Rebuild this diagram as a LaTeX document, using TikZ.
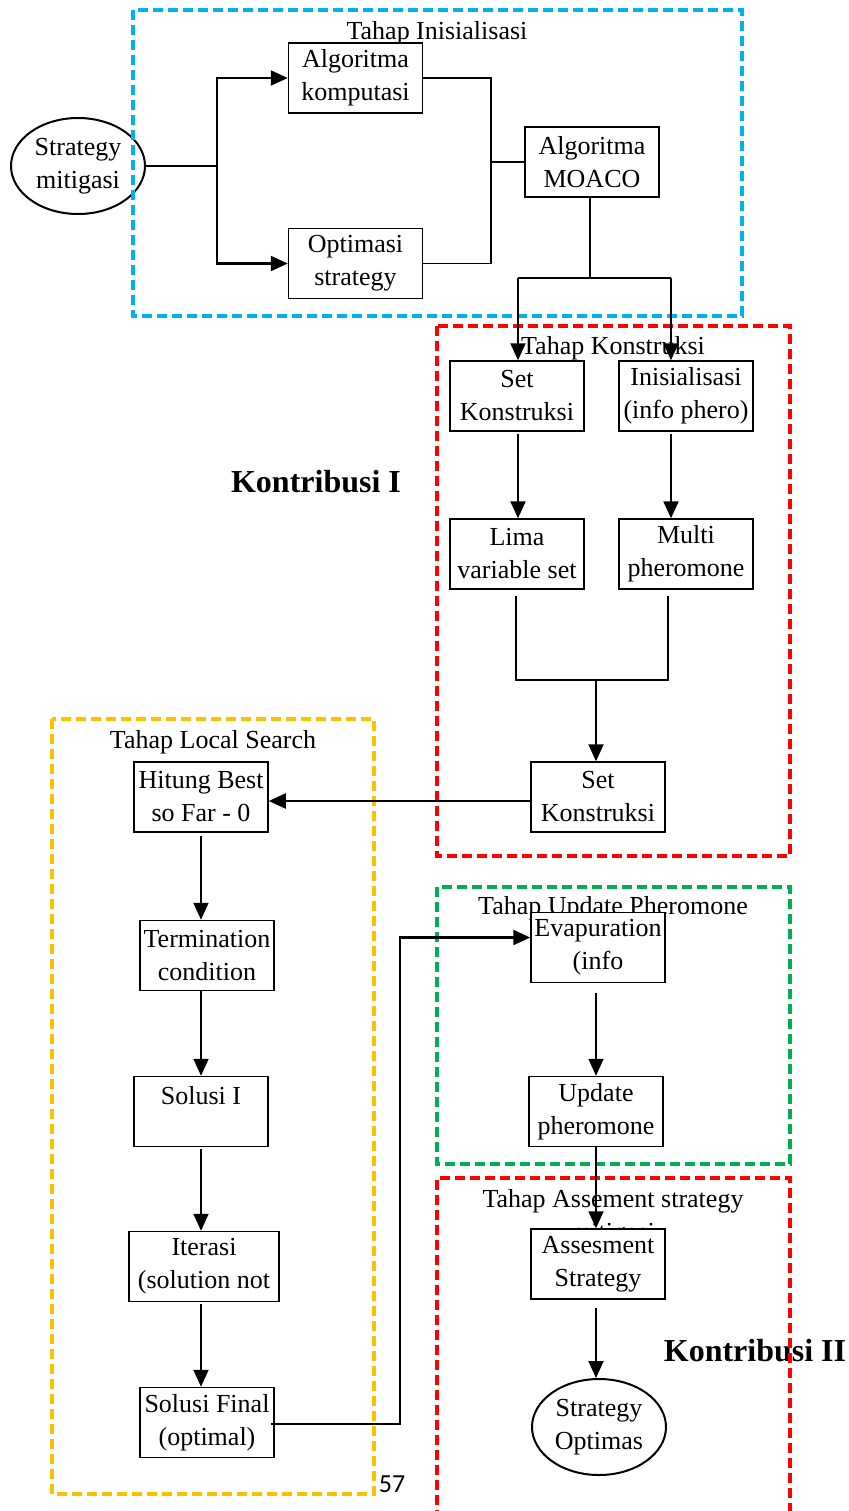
\documentclass[tikz,border=0pt]{standalone}
\usepackage{fontspec}
\setmainfont{Liberation Serif}
\newfontfamily\calibrifont{Carlito}
\usetikzlibrary{arrows.meta,shapes.geometric}
\definecolor{cblue}{RGB}{0,176,240}
\definecolor{cred}{RGB}{255,0,0}
\definecolor{cyel}{RGB}{255,192,0}
\definecolor{cgreen}{RGB}{0,176,80}
\tikzset{
  txt/.style={font=\fontsize{13pt}{16.5pt}\selectfont, align=center, inner sep=0pt},
  stepbox/.style={txt, draw=black, line width=0.75pt, fill=white, minimum width=67pt, minimum height=35pt},
  oval/.style={txt, ellipse, draw=black, line width=1pt, minimum width=67pt, minimum height=48pt},
  frame/.style={line width=1.75pt, dash pattern=on 5pt off 2.5pt},
  ln/.style={draw=black, line width=0.75pt},
  tip/.style={-{Triangle[length=8.5pt,width=7.5pt]}},
  arr/.style={draw=black, line width=1.1pt, tip},
  arrthin/.style={draw=black, line width=0.9pt, tip},
  kontri/.style={font=\fontsize{16pt}{19pt}\selectfont\bfseries, inner sep=0pt}
}
\begin{document}
\begin{tikzpicture}[x=0.5pt,y=-0.5pt]
\useasboundingbox (0,0) rectangle (849,1511);
\fill[white] (0,0) rectangle (849,1511);

% oval at left (under blue frame)
\node[oval, fill=white] (sm) at (78,166) {Strategy\\mitigasi};

% contribution labels
\node[kontri] (k1) at (316,482) {Kontribusi I};
\node[kontri] (k2) at (755,1351) {Kontribusi II};

% frames
\draw[frame, cblue] (133,10) rectangle (742,316);
\draw[frame, cred] (437,326) rectangle (790,856);
\draw[frame, cyel] (52,719) rectangle (374,1494);
\draw[frame, cgreen] (437,887) rectangle (790,1164);
\draw[frame, cred] (437,1520) -- (437,1178) -- (790,1178) -- (790,1520);

% stage titles
\node[txt] (t1) at (437,33) {Tahap Inisialisasi};
\node[txt] (t2) at (613,348) {Tahap Konstruksi};
\node[txt] (t3) at (213,742) {Tahap Local Search};
\node[txt] (t4) at (613,908) {Tahap Update Pheromone};
\node[txt] (t5) at (613,1217.5) {Tahap Assement strategy\\mitigasi};

% boxes
\node[stepbox] (ak) at (355.5,78) {Algoritma\\komputasi};
\node[stepbox] (os) at (355.5,263.5) {Optimasi\\strategy};
\node[stepbox] (mo) at (592,162) {Algoritma\\MOACO};
\node[stepbox] (sk1) at (517,396) {Set\\Konstruksi};
\node[stepbox] (ip) at (686,396) {Inisialisasi\\(info phero)};
\node[stepbox] (lv) at (517,554) {Lima\\variable set};
\node[stepbox] (mp) at (686,554) {Multi\\pheromone};
\node[stepbox] (sk2) at (598,797) {Set\\Konstruksi};
\node[stepbox] (hb) at (201,797) {Hitung Best\\so Far - 0};
\node[stepbox] (tc) at (207,955.5) {Termination\\condition};
\node[stepbox] (s1) at (201,1111.5) {Solusi I\\\mbox{}};
\node[stepbox, minimum width=75pt] (it) at (204,1266.5) {Iterasi\\(solution not};
\node[stepbox] (sf) at (207,1422.5) {Solusi Final\\(optimal)};
\node[stepbox] (ev) at (598,947.5) {Evapuration\\(info};
\node[stepbox] (up) at (596,1111.5) {Update\\pheromone};
\node[stepbox] (as) at (598,1264) {Assesment\\Strategy};
\node[oval, fill=white] (so) at (599,1427) {Strategy\\Optimas};
\node[font=\calibrifont\fontsize{13pt}{15pt}\selectfont, inner sep=0pt] (pg) at (392,1484) {57};

% junction points
\coordinate (j1) at (217,166);
\coordinate (j2) at (491,166);
\coordinate (j3) at (590,278);
\coordinate (j3l) at (518,278);
\coordinate (j3r) at (671,278);
\coordinate (l1) at (516,596);
\coordinate (l2) at (668,596);
\coordinate (j4) at (596,680);
\coordinate (j5) at (400,1180);

% connectors
\draw[ln] (sm.east) -- (j1);
\draw[arr] (j1) |- (ak.west);
\draw[arr] (j1) |- (os.west);
\draw[ln] (ak.east) -| (j2) |- (os.east);
\draw[draw=black, line width=1.3pt] (mo.west -| j2) -- (mo.west);
\draw[ln] (mo.south -| j3) -- (j3);
\draw[ln] (j3l) -- (j3r);
\draw[arr] (j3l) -- (j3l |- sk1.north);
\draw[arr] (j3r) -- (j3r |- ip.north);
\draw[arr] ([yshift=-1pt]sk1.south -| j3l) -- (lv.north -| j3l);
\draw[arr] ([yshift=-1pt]ip.south -| j3r) -- (mp.north -| j3r);
\draw[ln] (l1) |- (j4) -| (l2);
\draw[arr] (j4) -- (j4 |- sk2.north);
\draw[arr] ([yshift=-2pt]sk2.west) -- ([yshift=-2pt]sk2.west -| hb.east);
\draw[arrthin] ([yshift=-1.5pt]hb.south) -- (hb.south |- tc.north);
\draw[arrthin] (hb.south |- tc.south) -- (hb.south |- s1.north);
\draw[arrthin] ([yshift=-1pt]s1.south) -- (s1.south |- it.north);
\draw[arrthin] ([yshift=-1pt]it.south -| hb.south) -- (hb.south |- sf.north);
\draw[arr] ([xshift=-2pt,yshift=-0.8pt]sf.east) -| (j5) |- ([yshift=5pt]ev.west);
\draw[arrthin] ([yshift=-5pt]ev.south -| up.north) -- (up.north);
\draw[arrthin] (up.south) -- (up.south |- as.north);
\draw[arrthin] ([yshift=-4pt]as.south -| up.south) -- (up.south |- so.north);
\end{tikzpicture}
\end{document}
